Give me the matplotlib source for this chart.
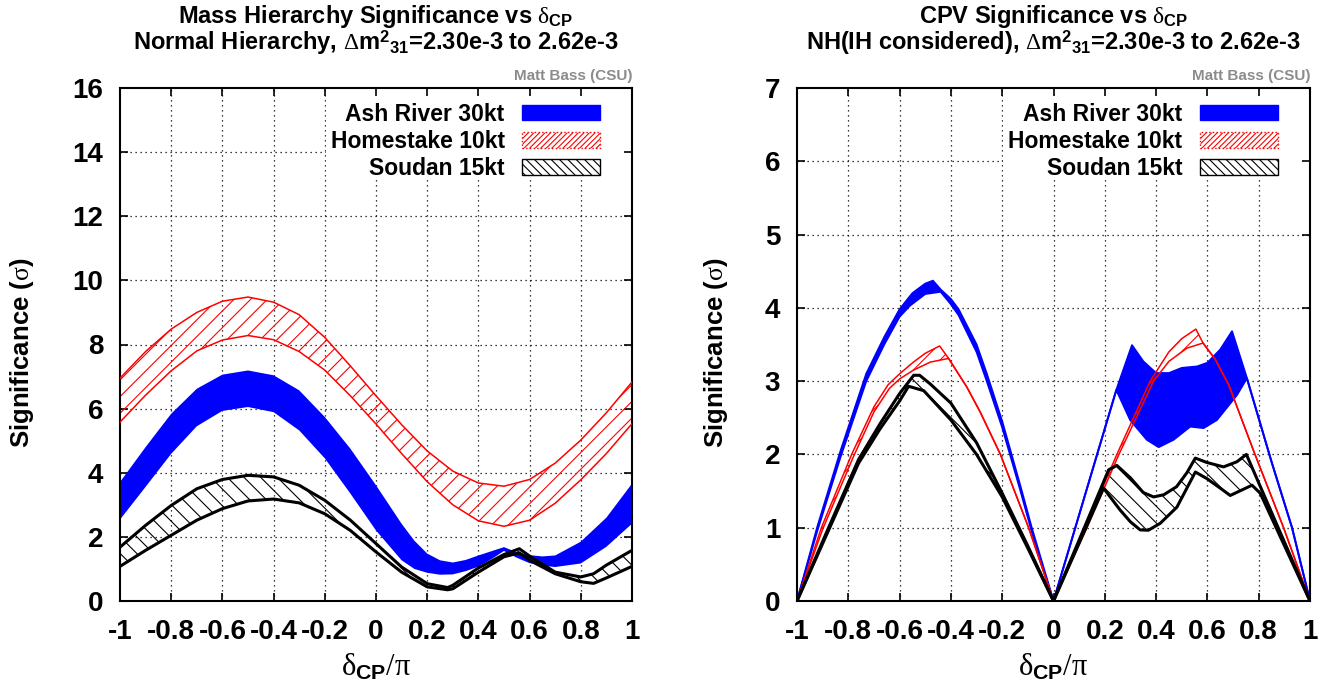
import numpy as np
import matplotlib
matplotlib.use('Agg')
import matplotlib.pyplot as plt
from matplotlib.patches import Patch, Rectangle

plt.rcParams['font.family'] = ['Liberation Sans', 'DejaVu Sans']
plt.rcParams['font.weight'] = 'bold'
plt.rcParams['axes.unicode_minus'] = False
plt.rcParams['mathtext.fontset'] = 'custom'
plt.rcParams['mathtext.rm'] = 'Liberation Serif:weight=normal'
plt.rcParams['mathtext.it'] = 'Liberation Serif:weight=normal'
plt.rcParams['mathtext.bf'] = 'Liberation Sans:bold'
plt.rcParams['hatch.linewidth'] = 0.8

# ---- data: mass hierarchy (left) ----
x_hs_mh = [-1.0, -0.9, -0.8, -0.7, -0.6, -0.5, -0.4, -0.3, -0.2, -0.1, 0.0,
           0.1, 0.2, 0.3, 0.4, 0.5, 0.6, 0.7, 0.8, 0.9, 1.0]
hs_mh_hi = [6.95, 7.78, 8.48, 9.00, 9.35, 9.48, 9.32, 8.93, 8.22, 7.33, 6.40,
            5.50, 4.68, 4.05, 3.68, 3.58, 3.79, 4.30, 5.02, 5.87, 6.83]
hs_mh_lo = [5.58, 6.42, 7.18, 7.80, 8.14, 8.28, 8.15, 7.78, 7.20, 6.40, 5.52,
            4.60, 3.72, 3.00, 2.50, 2.33, 2.52, 3.05, 3.78, 4.60, 5.53]
x_ash_mh = [-1.0, -0.9, -0.8, -0.7, -0.6, -0.5, -0.4, -0.3, -0.2, -0.1, 0.0,
            0.1, 0.15, 0.2, 0.25, 0.3, 0.35, 0.4, 0.45, 0.5, 0.55, 0.6, 0.65,
            0.7, 0.8, 0.9, 1.0]
ash_mh_hi = [3.71, 4.80, 5.84, 6.62, 7.06, 7.19, 7.04, 6.57, 5.74, 4.75, 3.61,
             2.41, 1.88, 1.48, 1.27, 1.20, 1.28, 1.42, 1.55, 1.68, 1.52, 1.43, 1.39,
             1.42, 1.85, 2.60, 3.66]
ash_mh_lo = [2.54, 3.56, 4.59, 5.45, 5.93, 6.05, 5.89, 5.32, 4.45, 3.35, 2.20,
             1.27, 1.00, 0.88, 0.82, 0.83, 0.93, 1.07, 1.30, 1.56, 1.35, 1.18, 1.10,
             1.06, 1.17, 1.69, 2.41]
x_sd_mh = [-1.0, -0.9, -0.8, -0.7, -0.6, -0.5, -0.4, -0.3, -0.2, -0.1, 0.0,
           0.1, 0.2, 0.28, 0.3, 0.4, 0.5, 0.56, 0.6, 0.7, 0.8, 0.85, 0.9, 1.0]
sd_mh_hi = [1.68, 2.36, 2.98, 3.50, 3.79, 3.92, 3.87, 3.61, 3.14, 2.52, 1.79,
            1.06, 0.54, 0.42, 0.49, 1.03, 1.45, 1.63, 1.40, 0.90, 0.75, 0.85, 1.12, 1.58]
sd_mh_lo = [1.08, 1.58, 2.05, 2.52, 2.88, 3.12, 3.18, 3.06, 2.72, 2.20, 1.53,
            0.90, 0.44, 0.35, 0.38, 0.90, 1.38, 1.50, 1.27, 0.85, 0.60, 0.55, 0.72, 1.08]

# ---- data: CP violation (right) ----
x_ash_cp_hi = [-1, -0.92, -0.83, -0.73, -0.66, -0.6, -0.55, -0.5, -0.47, -0.44, -0.4,
               -0.37, -0.3, -0.26, -0.2, -0.13, -0.085, -0.04, 0, 0.085, 0.17, 0.245,
               0.306, 0.35, 0.4, 0.45, 0.5, 0.56, 0.6, 0.65, 0.696, 0.754, 0.85, 0.93, 1]
ash_cp_hi = [0, 1.02, 2.05, 3.1, 3.6, 3.98, 4.2, 4.33, 4.37, 4.25, 4.12,
             3.98, 3.5, 3.1, 2.45, 1.58, 1.0, 0.47, 0, 1.0, 2.0, 2.88,
             3.49, 3.27, 3.11, 3.11, 3.18, 3.2, 3.25, 3.43, 3.68, 3.04, 1.9, 1.0, 0]
x_ash_cp_lo = [-1, -0.92, -0.83, -0.73, -0.66, -0.6, -0.56, -0.5, -0.44, -0.4, -0.37,
               -0.3, -0.26, -0.2, -0.13, -0.085, -0.04, 0, 0.085, 0.17, 0.245, 0.299,
               0.364, 0.41, 0.468, 0.533, 0.585, 0.637, 0.715, 0.754, 0.85, 0.93, 1]
ash_cp_lo = [0, 0.97, 1.97, 3.0, 3.5, 3.88, 4.03, 4.19, 4.22, 4.05, 3.9,
             3.4, 3.0, 2.37, 1.52, 0.95, 0.43, 0, 1.0, 2.0, 2.88, 2.47,
             2.2, 2.1, 2.2, 2.38, 2.36, 2.47, 2.81, 3.04, 1.9, 1.0, 0]

x_hs_cp_hi = [-1, -0.905, -0.787, -0.7, -0.645, -0.6, -0.546, -0.5, -0.444, -0.409,
              -0.338, -0.286, -0.207, -0.097, 0, 0.124, 0.247, 0.377, 0.45, 0.5, 0.555,
              0.583, 0.63, 0.683, 0.78, 0.897, 1]
hs_cp_hi = [0, 1.0, 2.0, 2.65, 2.95, 3.1, 3.26, 3.38, 3.48, 3.31,
            2.92, 2.58, 2.0, 1.0, 0, 1.0, 2.0, 3.0, 3.4, 3.58, 3.71,
            3.52, 3.3, 2.95, 2.05, 1.0, 0]
x_hs_cp_lo = [-1, -0.9, -0.78, -0.7, -0.64, -0.6, -0.546, -0.48, -0.409, -0.338,
              -0.286, -0.207, -0.097, 0, 0.13, 0.255, 0.39, 0.45, 0.52, 0.583, 0.63,
              0.683, 0.78, 0.897, 1]
hs_cp_lo = [0, 0.98, 1.97, 2.58, 2.9, 3.03, 3.15, 3.26, 3.31, 2.92,
            2.58, 2.0, 1.0, 0, 1.0, 2.0, 3.0, 3.27, 3.45, 3.52, 3.3,
            2.95, 2.05, 1.0, 0]

x_sd_cp_hi = [-1, -0.877, -0.76, -0.676, -0.6, -0.545, -0.522, -0.48, -0.4, -0.3, -0.2,
              -0.1, 0, 0.215, 0.247, 0.3, 0.35, 0.39, 0.43, 0.48, 0.52, 0.553, 0.598,
              0.663, 0.715, 0.752, 1]
sd_cp_hi = [0, 1.0, 1.93, 2.42, 2.83, 3.08, 3.08, 2.96, 2.70, 2.16, 1.47,
            0.75, 0, 1.79, 1.85, 1.68, 1.48, 1.42, 1.45, 1.56, 1.75, 1.95, 1.89,
            1.83, 1.9, 2.0, 0]
x_sd_cp_lo = [-1, -0.875, -0.76, -0.676, -0.6, -0.565, -0.506, -0.4, -0.3, -0.2, -0.1,
              0, 0.195, 0.26, 0.3, 0.338, 0.37, 0.416, 0.481, 0.553, 0.598, 0.65,
              0.689, 0.774, 0.806, 1]
sd_cp_lo = [0, 0.98, 1.88, 2.35, 2.73, 2.93, 2.87, 2.47, 2.0, 1.42, 0.72,
            0, 1.54, 1.24, 1.08, 0.97, 0.966, 1.06, 1.28, 1.76, 1.67, 1.54,
            1.44, 1.58, 1.47, 0]

labels = ['Ash River 30kt', 'Homestake 10kt', 'Soudan 15kt']
xticks = [-1, -0.8, -0.6, -0.4, -0.2, 0, 0.2, 0.4, 0.6, 0.8, 1]
xticklabels = ['-1', '-0.8', '-0.6', '-0.4', '-0.2', '0', '0.2', '0.4', '0.6', '0.8', '1']


def band(ax, xu, yu, xl, yl, color, hatch=None, lw=1.0, solid=False):
    px = np.concatenate([xu, xl[::-1]])
    py = np.concatenate([yu, yl[::-1]])
    if solid:
        ax.fill(px, py, facecolor=color, edgecolor='none', lw=0, zorder=2)
    else:
        ax.fill(px, py, facecolor='none', edgecolor=color, hatch=hatch, lw=0, zorder=2)
    if lw > 0:
        ax.plot(xu, yu, color=color, lw=lw, zorder=3)
        ax.plot(xl, yl, color=color, lw=lw, zorder=3)


def style(ax, ymax, ystep, t1, t2, ylab_x):
    ax.set_xlim(-1, 1)
    ax.set_ylim(0, ymax)
    yt = np.arange(0, ymax + 0.5, ystep)
    ax.set_xticks(xticks)
    ax.set_xticklabels(xticklabels)
    ax.set_yticks(yt)
    ax.set_yticklabels(['%d' % v for v in yt])
    ax.tick_params(direction='in', length=6, width=1.2, top=True, right=True,
                   labelsize=20)
    ax.tick_params(axis='x', pad=13)
    ax.tick_params(axis='y', pad=12)
    for s in ax.spines.values():
        s.set_linewidth(1.5)
    # dotted grid, hidden behind key
    ax.vlines(xticks[1:-1], 0, ymax, colors='k', linestyles=(0, (1, 3)), lw=0.9, zorder=0.5)
    ax.hlines(yt[1:-1], -1, 1, colors='k', linestyles=(0, (1, 3)), lw=0.9, zorder=0.5)
    ax.add_patch(Rectangle((0.402, 0.821), 0.598, 0.179, transform=ax.transAxes,
                           facecolor='white', edgecolor='none', zorder=1))
    ax.text(0.5, 1.127, t1, transform=ax.transAxes, ha='center', va='baseline', fontsize=17)
    ax.text(0.5, 1.074, t2, transform=ax.transAxes, ha='center', va='baseline', fontsize=17)
    ax.text(1.0, 1.016, 'Matt Bass (CSU)', transform=ax.transAxes, ha='right',
            va='baseline', fontsize=11, color='#8c8c8c')
    ax.text(ylab_x, 0.483, r'Significance ($\sigma$)', transform=ax.transAxes,
            rotation=90, ha='center', va='center', fontsize=18.5)
    ax.text(0.5, -0.146, r'$\delta_{\mathbf{CP}}/\pi$', transform=ax.transAxes,
            ha='center', va='baseline', fontsize=22)
    handles = [Patch(facecolor='blue', edgecolor='blue', lw=1),
               Patch(facecolor='white', edgecolor='red', hatch='//////', ls=':', lw=1),
               Patch(facecolor='white', edgecolor='black', hatch='\\\\\\\\', lw=1)]
    ax.legend(handles, labels, loc='upper right', bbox_to_anchor=(0.937, 0.971),
              bbox_transform=ax.transAxes, markerfirst=False, frameon=False,
              fontsize=16.5, handlelength=3.4, handleheight=0.65, handletextpad=0.75,
              labelspacing=0.18, borderpad=0, borderaxespad=0)


fig = plt.figure(figsize=(13.43, 6.96), dpi=100)
ax1 = fig.add_axes([120 / 1343, 95 / 696, 512 / 1343, 513 / 696])
ax2 = fig.add_axes([797 / 1343, 95 / 696, 513 / 1343, 513 / 696])

# left: mass hierarchy
band(ax1, x_hs_mh, hs_mh_hi, x_hs_mh, hs_mh_lo, 'red', hatch='//', lw=1.1)
band(ax1, x_ash_mh, ash_mh_hi, x_ash_mh, ash_mh_lo, 'blue', lw=0, solid=True)
band(ax1, x_sd_mh, sd_mh_hi, x_sd_mh, sd_mh_lo, 'black', hatch='\\\\', lw=2.2)
style(ax1, 16, 2, r'Mass Hierarchy Significance vs $\delta_{\mathbf{CP}}$',
      r'Normal Hierarchy, $\Delta$m$^{\mathbf{2}}$$_{\mathbf{31}}$=2.30e-3 to 2.62e-3', -0.191)

# right: CP violation
band(ax2, x_ash_cp_hi, ash_cp_hi, x_ash_cp_lo, ash_cp_lo, 'blue', lw=1.4, solid=True)
band(ax2, x_hs_cp_hi, hs_cp_hi, x_hs_cp_lo, hs_cp_lo, 'red', hatch='//', lw=1.1)
band(ax2, x_sd_cp_hi, sd_cp_hi, x_sd_cp_lo, sd_cp_lo, 'black', hatch='\\\\', lw=2.2)
style(ax2, 7, 1, r'CPV Significance vs $\delta_{\mathbf{CP}}$',
      r'NH(IH considered), $\Delta$m$^{\mathbf{2}}$$_{\mathbf{31}}$=2.30e-3 to 2.62e-3', -0.158)

fig.savefig('out.png', dpi=100)
